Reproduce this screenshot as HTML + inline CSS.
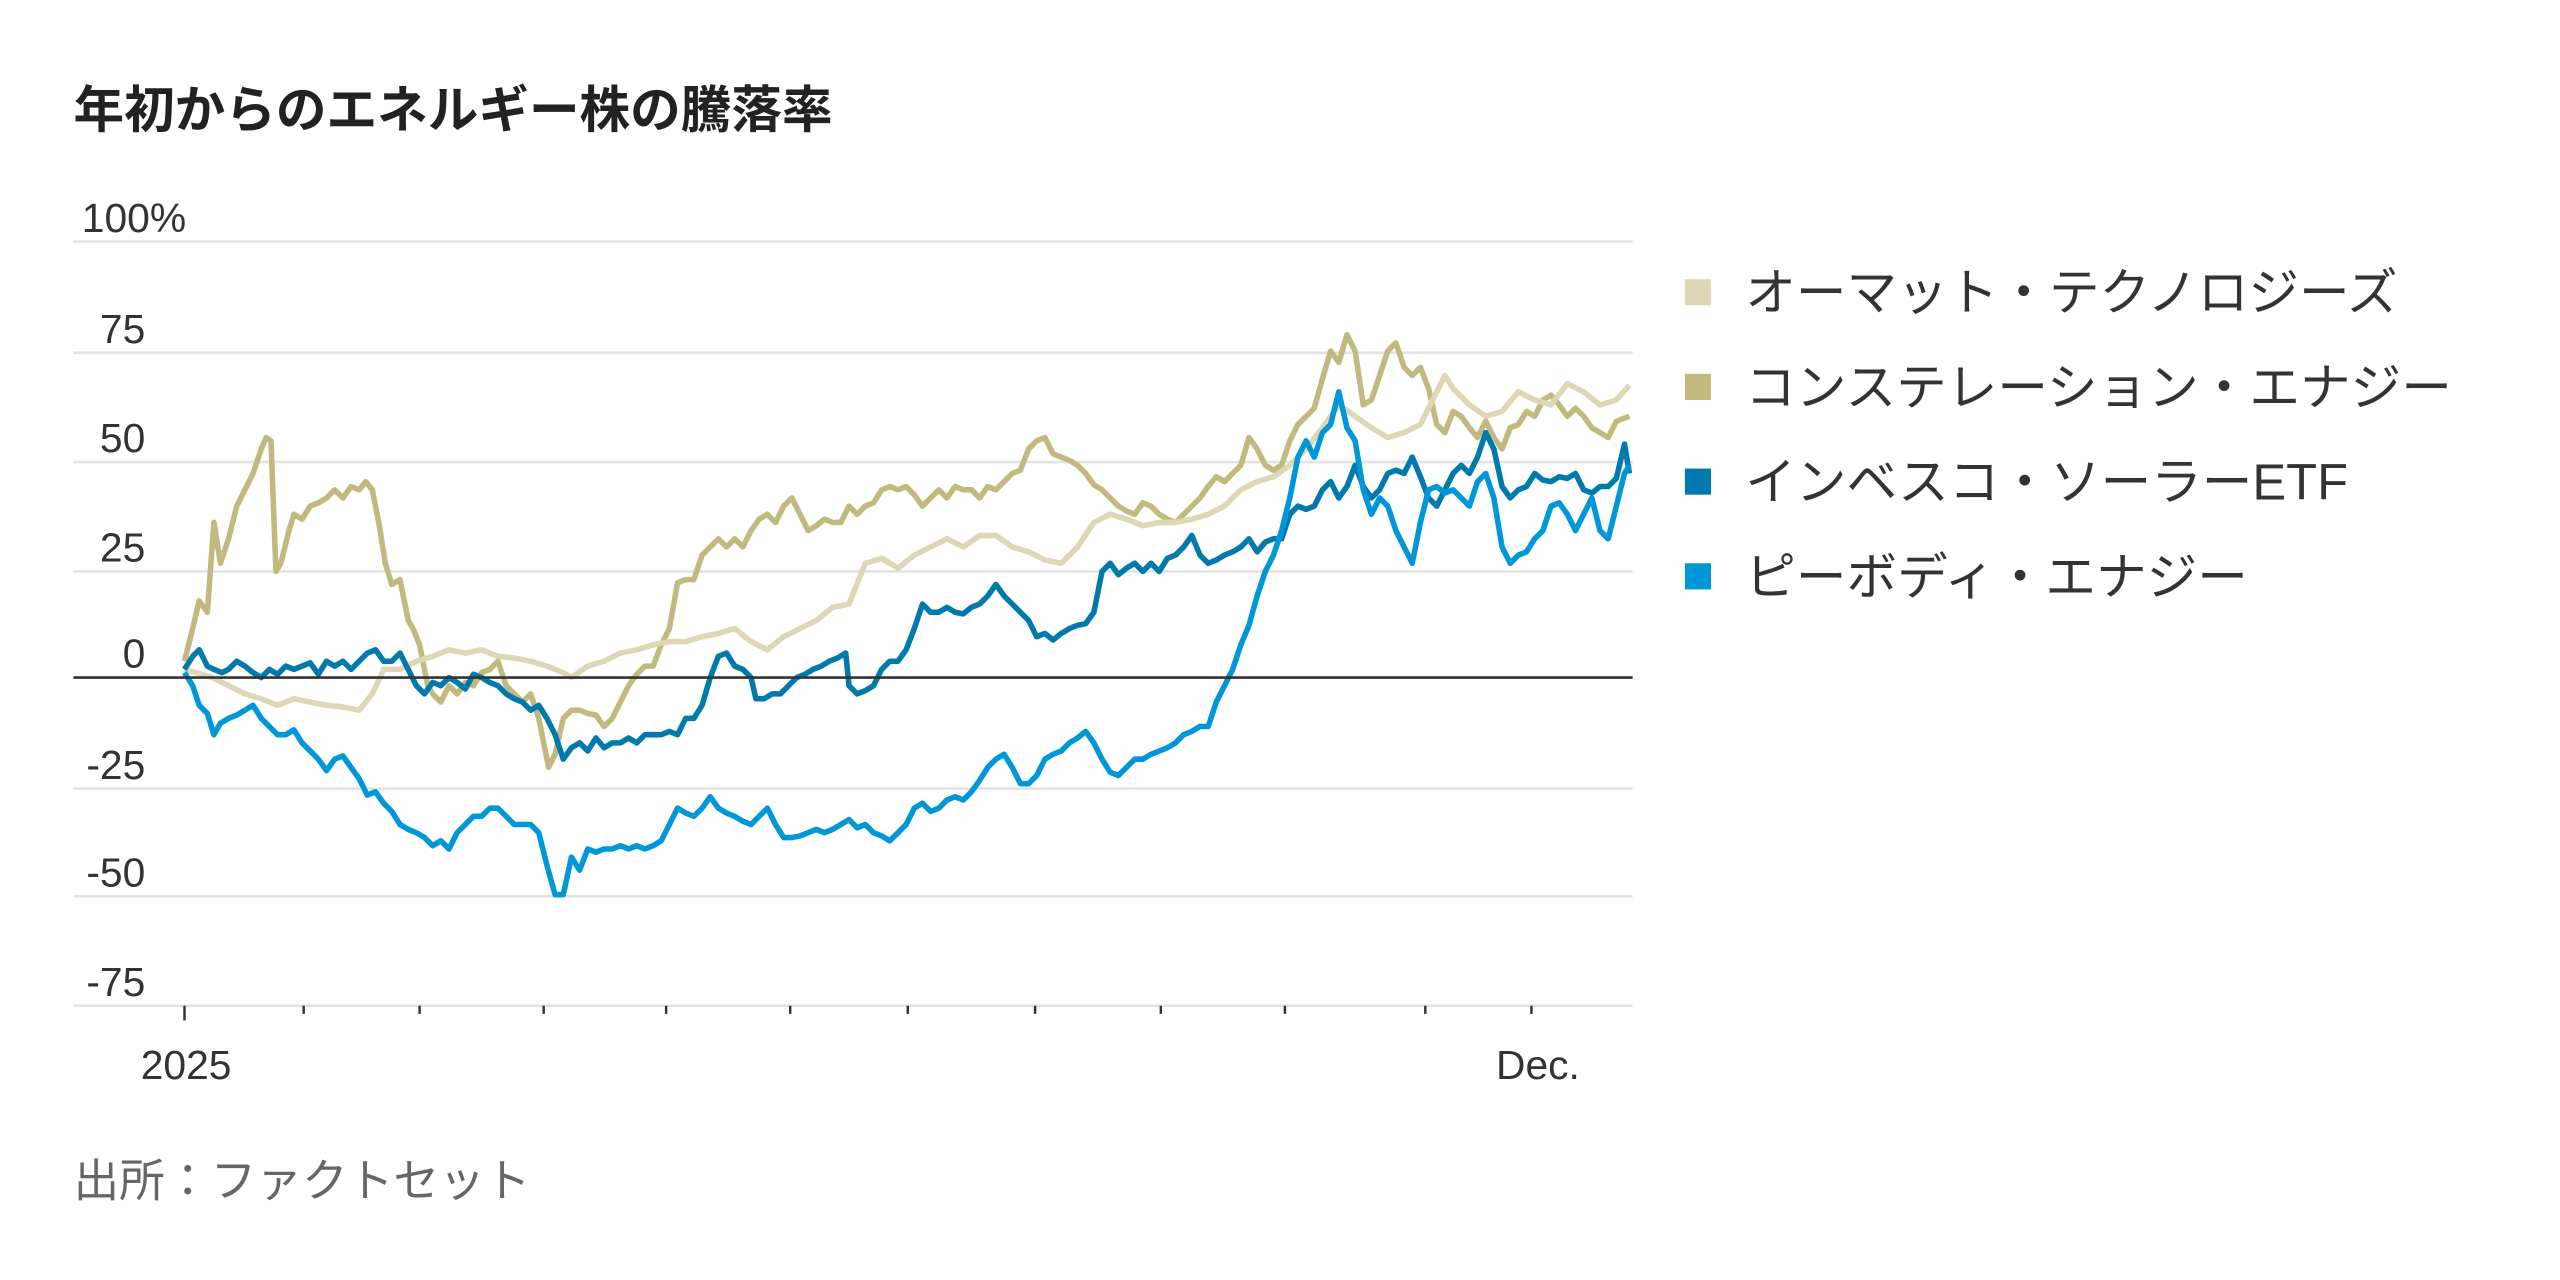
<!DOCTYPE html>
<html><head><meta charset="utf-8"><style>
html,body{margin:0;padding:0;background:#fff;}
svg{display:block;}
text{font-family:"Liberation Sans","Noto Sans CJK JP",sans-serif;}
</style></head><body>
<svg width="2560" height="1280" viewBox="0 0 1568 784" xmlns="http://www.w3.org/2000/svg">
<text x="45" y="78" font-size="31" font-weight="bold" fill="#222">年初からのエネルギー株の騰落率</text>
<g stroke="#e3e3e3" stroke-width="1.6">
<line x1="45" y1="148" x2="1000" y2="148"/><line x1="45" y1="216" x2="1000" y2="216"/>
<line x1="45" y1="283" x2="1000" y2="283"/><line x1="45" y1="350" x2="1000" y2="350"/>
<line x1="45" y1="483" x2="1000" y2="483"/><line x1="45" y1="549" x2="1000" y2="549"/>
<line x1="45" y1="616" x2="1000" y2="616"/>
</g>
<g fill="#333" font-size="25" text-anchor="end">
<text x="114" y="142">100%</text>
<text x="89" y="210">75</text><text x="89" y="277">50</text><text x="89" y="344">25</text>
<text x="89" y="409">0</text><text x="89" y="477">-25</text><text x="89" y="543">-50</text><text x="89" y="610">-75</text>
</g>
<g stroke="#333" stroke-width="1.5">
<line x1="113" y1="616" x2="113" y2="625"/>
<line x1="186" y1="616" x2="186" y2="621"/><line x1="257" y1="616" x2="257" y2="621"/>
<line x1="333" y1="616" x2="333" y2="621"/><line x1="408" y1="616" x2="408" y2="621"/>
<line x1="484" y1="616" x2="484" y2="621"/><line x1="556" y1="616" x2="556" y2="621"/>
<line x1="634" y1="616" x2="634" y2="621"/><line x1="711" y1="616" x2="711" y2="621"/>
<line x1="787" y1="616" x2="787" y2="621"/><line x1="873" y1="616" x2="873" y2="621"/>
<line x1="938" y1="616" x2="938" y2="621"/>
</g>
<g fill="#333" font-size="25" text-anchor="middle">
<text x="114" y="661">2025</text><text x="942" y="661">Dec.</text>
</g>
<g fill="none" stroke-width="3.4" stroke-linejoin="round">
<polyline stroke="#c2b97e" points="113,405 118,385 122,368 127,375 131,320 135,345 140,330 145,310 150,300 155,290 160,275 163,268 166,270 169,350 172,345 177,325 180,315 185,318 190,310 195,308 200,305 205,300 210,305 215,298 220,300 224,295 228,300 232,320 236,345 240,358 245,355 250,380 253,385 257,395 262,420 265,425 270,430 275,420 280,425 285,418 290,420 295,412 300,410 305,405 310,420 315,425 320,430 325,425 330,440 336,470 340,462 345,440 350,435 355,435 360,437 365,438 370,445 375,440 380,430 385,420 390,413 395,408 400,408 405,395 410,385 415,357 420,355 425,355 430,340 435,335 440,330 445,335 450,330 455,335 460,325 465,318 470,315 475,320 480,310 485,305 490,315 495,325 500,322 505,318 510,320 515,320 520,310 525,315 530,310 535,308 540,300 545,298 550,300 555,298 560,303 565,310 570,305 575,300 580,305 585,298 590,300 595,300 600,305 605,298 610,300 615,295 620,290 625,288 630,275 635,270 640,268 645,278 650,280 655,282 660,285 665,290 670,297 675,300 680,305 685,310 690,313 695,315 700,308 705,310 710,315 715,318 720,320 725,315 730,310 735,305 740,298 745,292 750,295 755,290 760,285 765,268 770,275 775,285 780,288 785,285 790,270 795,260 800,255 805,250 810,232 815,215 820,222 825,205 830,215 835,248 840,245 845,230 850,215 855,210 860,225 865,230 870,225 875,238 880,260 885,265 890,252 895,255 900,262 905,268 910,258 915,268 920,275 925,262 930,260 935,252 940,255 945,245 950,242 955,248 960,255 965,250 970,255 975,262 980,265 985,268 990,258 998,255"/>
<polyline stroke="#ddd7b5" points="113,410 120,412 130,415 140,420 150,425 160,428 170,432 180,428 190,430 200,432 210,433 220,435 228,425 235,410 245,410 255,405 265,402 275,398 285,400 295,398 305,402 315,403 325,405 335,408 345,412 350,415 360,408 370,405 380,400 390,398 400,395 410,393 420,393 430,390 440,388 450,385 460,393 470,398 480,390 490,385 500,380 510,372 520,370 530,345 540,342 550,348 560,340 570,335 580,330 590,335 600,328 610,328 620,335 630,338 640,343 650,345 660,335 670,320 680,315 690,318 700,322 710,320 720,320 730,318 740,315 750,310 760,300 770,295 780,292 790,285 800,275 810,262 815,255 820,248 830,255 840,262 850,268 860,265 870,260 880,240 885,230 890,238 900,248 910,255 920,252 930,240 940,245 950,248 960,235 970,240 980,248 990,245 998,236"/>
<polyline stroke="#0079ac" points="113,410 118,402 122,398 127,408 131,410 136,412 140,410 145,405 150,408 155,412 160,415 165,410 170,413 175,408 180,410 185,408 190,406 195,413 200,405 205,408 210,405 215,410 220,405 225,400 230,398 235,405 240,405 245,400 250,410 255,420 260,425 265,418 270,420 275,415 280,418 285,422 290,413 295,415 300,418 305,420 310,425 315,428 320,430 325,435 330,432 335,440 340,450 345,465 350,458 355,455 360,460 365,452 370,458 375,455 380,455 385,452 390,455 395,450 400,450 405,450 410,448 415,450 420,440 425,440 430,432 435,415 440,402 445,400 450,408 455,410 460,415 463,428 468,428 473,425 478,425 483,420 488,415 493,413 498,410 503,408 508,405 513,403 518,400 520,420 525,425 530,423 535,420 540,410 545,405 550,405 555,398 560,385 565,370 570,375 575,375 580,372 585,375 590,376 595,372 600,370 605,365 610,358 615,365 620,370 625,375 630,380 635,390 640,388 645,392 650,388 655,385 660,383 665,382 670,375 675,350 680,345 685,352 690,348 695,345 700,350 705,345 710,350 715,342 720,340 725,335 730,328 735,340 740,345 745,343 750,340 755,338 760,335 765,330 770,338 775,332 780,330 785,330 790,315 795,310 800,312 805,310 810,300 815,295 820,305 825,298 830,285 835,298 840,305 845,300 850,290 855,288 860,290 865,280 870,292 875,305 880,310 885,300 890,290 895,285 900,290 905,280 910,265 915,275 920,298 925,305 930,300 935,298 940,290 945,294 950,295 955,292 960,293 965,290 970,300 975,302 980,298 985,298 990,293 995,272 998,290"/>
<polyline stroke="#0097d8" points="113,412 118,420 122,432 127,437 131,450 135,443 140,440 145,438 150,435 155,432 160,440 165,445 170,450 175,450 180,447 185,455 190,460 195,465 200,472 205,465 210,463 215,470 220,477 225,487 230,485 235,492 240,497 245,505 250,508 255,510 260,513 265,518 270,515 275,520 280,510 285,505 290,500 295,500 300,495 305,495 310,500 315,505 320,505 325,505 330,510 335,530 340,548 345,548 350,525 355,533 360,520 365,522 370,520 375,520 380,518 385,520 390,518 395,520 400,518 405,515 410,505 415,495 420,498 425,500 430,495 435,488 440,495 445,498 450,500 455,503 460,505 465,500 470,495 475,505 480,513 485,513 490,512 495,510 500,508 505,510 510,508 515,505 520,502 525,507 530,505 535,510 540,512 545,515 550,510 555,505 560,495 565,492 570,497 575,495 580,490 585,488 590,490 595,485 600,478 605,470 610,465 615,462 620,470 625,480 630,480 635,475 640,465 645,462 650,460 655,455 660,452 665,448 670,455 675,465 680,473 685,475 690,470 695,465 700,465 705,462 710,460 715,458 720,455 725,450 730,448 735,445 740,445 745,430 750,420 755,410 760,395 765,383 770,365 775,350 780,340 785,325 790,305 795,280 800,270 805,280 810,265 815,260 820,240 825,262 830,270 835,300 840,315 845,305 850,310 855,325 860,335 865,345 870,320 875,300 880,298 885,302 890,300 895,305 900,310 905,295 910,290 915,305 920,335 925,345 930,340 935,338 940,330 945,325 950,310 955,308 960,315 965,325 970,315 975,305 980,325 985,330 990,310 995,290 998,285"/>
</g>
<line x1="45" y1="415" x2="1000" y2="415" stroke="#333" stroke-width="1.6"/>
<rect x="1032" y="171" width="16" height="16" fill="#ddd7b5"/>
<rect x="1032" y="229" width="16" height="16" fill="#c2b97e"/>
<rect x="1032" y="287" width="16" height="16" fill="#0079ac"/>
<rect x="1032" y="345" width="16" height="16" fill="#0097d8"/>
<g fill="#333" font-size="31">
<text x="1069" y="190">オーマット・テクノロジーズ</text>
<text x="1069" y="248">コンステレーション・エナジー</text>
<text x="1069" y="306">インベスコ・ソーラーETF</text>
<text x="1069" y="364">ピーボディ・エナジー</text>
</g>
<text x="45" y="733" font-size="28" fill="#666">出所：ファクトセット</text>
</svg>
</body></html>
